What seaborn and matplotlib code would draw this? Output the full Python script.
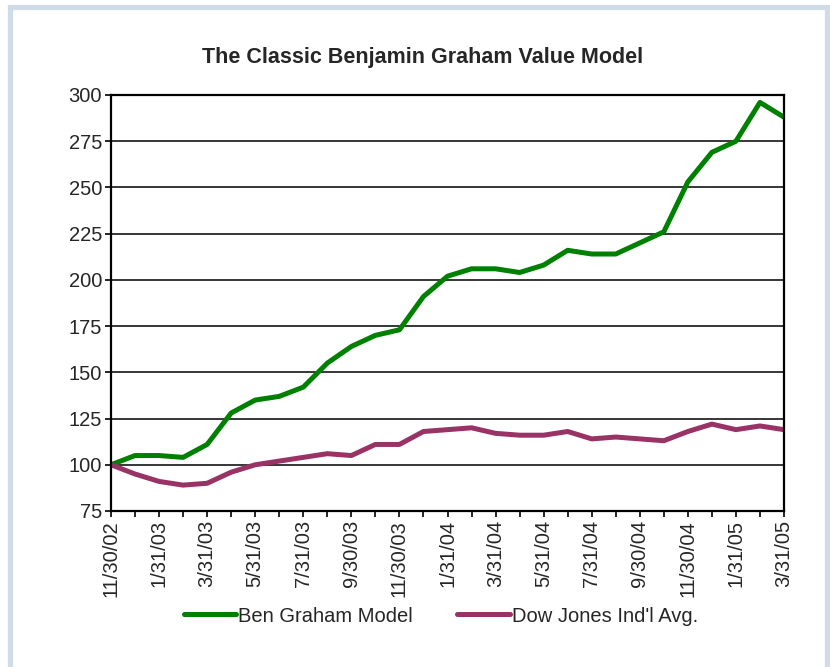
import pandas as pd
import numpy as np
import matplotlib
matplotlib.use('Agg')
import matplotlib.pyplot as plt
from matplotlib.patches import Rectangle
import seaborn as sb


# Dados (fim de cada mês, base 100 em 11/30/02)
datas = ['11/30/02', '12/31/02', '1/31/03', '2/28/03', '3/31/03', '4/30/03', '5/31/03',
         '6/30/03', '7/31/03', '8/31/03', '9/30/03', '10/31/03', '11/30/03', '12/31/03',
         '1/31/04', '2/29/04', '3/31/04', '4/30/04', '5/31/04', '6/30/04', '7/31/04',
         '8/31/04', '9/30/04', '10/31/04', '11/30/04', '12/31/04', '1/31/05', '2/28/05',
         '3/31/05']

ben_graham = [100, 105, 105, 104, 111, 128, 135, 137, 142, 155, 164, 170, 173, 191,
              202, 206, 206, 204, 208, 216, 214, 214, 220, 226, 253, 269, 275, 296, 288]

dow_jones = [100, 95, 91, 89, 90, 96, 100, 102, 104, 106, 105, 111, 111, 118,
             119, 120, 117, 116, 116, 118, 114, 115, 114, 113, 118, 122, 119, 121, 119]

series_nomes = ['Ben Graham Model', "Dow Jones Ind'l Avg."]
cores = {'Ben Graham Model': '#008000', "Dow Jones Ind'l Avg.": '#993366'}

df = pd.DataFrame({'mes': np.arange(len(datas)),
                   series_nomes[0]: ben_graham,
                   series_nomes[1]: dow_jones})
df = df.melt(id_vars='mes', var_name='serie', value_name='valor')


#####################################################################
############################# GRÁFICO ###############################
#####################################################################

sb.set_style('white')
plt.rcParams['font.family'] = ['Liberation Sans', 'DejaVu Sans']

fig = plt.figure(figsize=(8.3, 6.67), dpi=100)
ax = fig.add_axes([111/830, 1 - 511/667, (784 - 111)/830, (511 - 95)/667])

# moldura azul clara em volta
fig.patches.append(Rectangle((9.5/830, -0.05), (826.5 - 9.5)/830, 1.05 - 6.5/667,
                             transform=fig.transFigure, fill=False,
                             edgecolor='#CFDCE8', linewidth=3.8, zorder=0))

sb.lineplot(data=df, x='mes', y='valor', hue='serie', palette=cores,
            linewidth=3.6, ax=ax, legend=False)

ax.set_xlim(0, len(datas) - 1)
ax.set_ylim(75, 300)
ax.set_yticks(np.arange(75, 301, 25))
ax.yaxis.grid(True, color='black', linewidth=1.1)
ax.set_axisbelow(True)

ax.set_xticks(np.arange(len(datas)))
ax.set_xticklabels([d if i % 2 == 0 else '' for i, d in enumerate(datas)], rotation=90)
ax.tick_params(axis='both', direction='out', length=4, width=1.2, color='black',
               labelsize=14.5, pad=2.5, bottom=True, left=True)
ax.set_xlabel('')
ax.set_ylabel('')
for s in ax.spines.values():
    s.set_color('black')
    s.set_linewidth(1.6)

fig.text(423/830, 1 - 57/667, 'The Classic Benjamin Graham Value Model',
         ha='center', va='center', fontsize=15.5, fontweight='bold')

handles = [plt.Line2D([], [], color=cores[n], linewidth=3.6) for n in series_nomes]
fig.legend(handles, series_nomes, loc='center', bbox_to_anchor=(441/830, 1 - 616/667),
           ncol=2, frameon=False, fontsize=14.5, handlelength=2.6, handletextpad=0.1,
           columnspacing=2.2)

fig.savefig('out.png', dpi=100, facecolor='white')
